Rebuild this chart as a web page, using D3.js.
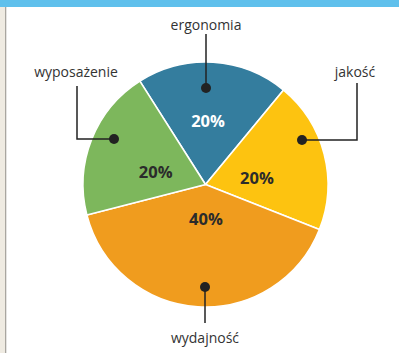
<!DOCTYPE html>
<html>
<head>
<meta charset="utf-8">
<script src="https://cdn.jsdelivr.net/npm/d3@7"></script>
<style>
  html, body { margin: 0; padding: 0; background: #fff; }
  svg { display: block; }
</style>
</head>
<body>
<svg id="chart" width="399" height="353"></svg>
<script>
// Pie data: category names, shares and slice colours
const categories = ["ergonomia", "jakość", "wydajność", "wyposażenie"];
const shares = [20, 20, 40, 20];
const colors = ["#347d9e", "#fdc310", "#f09c1e", "#7db75c"];
const valueTextColors = ["#ffffff", "#2b2b2b", "#2b2b2b", "#2b2b2b"];

const W = 399, H = 353;
const cx = 205.5, cy = 184.5, R = 122.5;
const startDeg = -32.4;

const svg = d3.select("#chart");

// Page frame: top band and left margin strip
svg.append("rect").attr("x", 0).attr("y", 0).attr("width", W).attr("height", 7).attr("fill", "#5fc0ec");
svg.append("rect").attr("x", 0).attr("y", 7).attr("width", 5).attr("height", H - 7).attr("fill", "#efebe2");
svg.append("rect").attr("x", 5).attr("y", 7).attr("width", 1.3).attr("height", H - 7).attr("fill", "#a9a6a0");

const data = categories.map((c, i) => ({ name: c, value: shares[i], color: colors[i], textColor: valueTextColors[i] }));

const start = startDeg * Math.PI / 180;
const pie = d3.pie().sort(null).value(d => d.value).startAngle(start).endAngle(start + 2 * Math.PI);
const arcs = pie(data);

const arc = d3.arc().innerRadius(0).outerRadius(R);
const g = svg.append("g").attr("transform", `translate(${cx},${cy})`);

g.selectAll("path.slice").data(arcs).join("path")
  .attr("class", "slice")
  .attr("d", arc)
  .attr("fill", d => d.data.color)
  .attr("stroke", "#ffffff")
  .attr("stroke-width", 1.6)
  .attr("stroke-linejoin", "round");

// Percentage labels placed near each slice's bisector
const pctOffsets = [0.52, 0.42, 0.28, 0.42];
const pctShift = [[-1.5, 0], [1.6, 5.3], [2.6, -0.7], [-2, 6]];
g.selectAll("text.pct").data(arcs).join("text")
  .attr("class", "pct")
  .attr("x", (d, i) => {
    const a = (d.startAngle + d.endAngle) / 2;
    return Math.sin(a) * R * pctOffsets[i] + pctShift[i][0];
  })
  .attr("y", (d, i) => {
    const a = (d.startAngle + d.endAngle) / 2;
    return -Math.cos(a) * R * pctOffsets[i] + pctShift[i][1];
  })
  .attr("text-anchor", "middle")
  .attr("dominant-baseline", "central")
  .attr("font-family", "'Open Sans', sans-serif")
  .attr("font-weight", 700)
  .attr("font-size", 16.5)
  .attr("fill", d => d.data.textColor)
  .text(d => d.data.value + "%");

// Callouts: dot inside the slice, elbow leader, category name
const ink = "#222222";
const callouts = [
  { dot: [206, 88], path: [[206, 88], [206, 34]], label: [206, 30] },
  { dot: [302, 140], path: [[302, 140], [357, 140], [357, 83]], label: [355, 77] },
  { dot: [205, 287], path: [[205, 287], [205, 323]], label: [205, 343] },
  { dot: [114, 139], path: [[114, 139], [77, 139], [77, 86]], label: [76, 77] }
];

const line = d3.line();
const co = svg.append("g");
callouts.forEach((c, i) => {
  co.append("path").attr("d", line(c.path)).attr("fill", "none").attr("stroke", ink).attr("stroke-width", 1.5);
  co.append("circle").attr("cx", c.dot[0]).attr("cy", c.dot[1]).attr("r", 5).attr("fill", ink);
  co.append("text")
    .attr("x", c.label[0]).attr("y", c.label[1])
    .attr("text-anchor", "middle")
    .attr("font-family", "'Open Sans', sans-serif")
    .attr("font-size", 14)
    .attr("fill", "#333333")
    .text(categories[i]);
});
</script>
</body>
</html>
